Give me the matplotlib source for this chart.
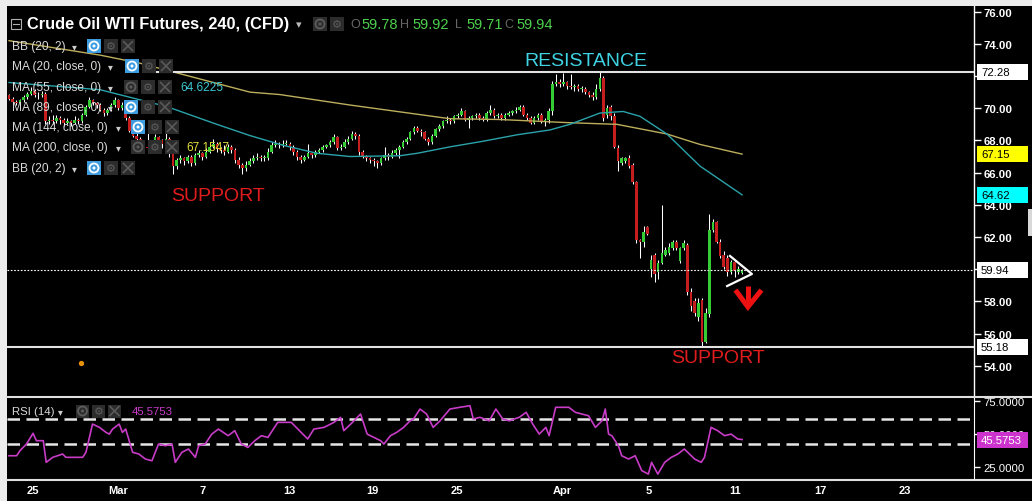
import matplotlib
matplotlib.use("Agg")
import matplotlib.pyplot as plt
from matplotlib.patches import Rectangle, Ellipse
from matplotlib.lines import Line2D
from matplotlib.ticker import FormatStrFormatter, FuncFormatter
import numpy as np

plt.rcParams['font.family'] = ['Liberation Sans', 'DejaVu Sans']

# ---------------- data ----------------
opens = [70.8, 70.6, 70.4, 70.3, 70.5, 70.7, 70.9, 71.1, 70.8, 70.8,
         70.9, 69.2, 69.3, 69.2, 69.4, 69.3, 69.1, 69.2, 69.1, 69.3,
         69.2, 69.6, 70.1, 70.5, 70.3, 70.2, 69.9, 69.7, 69.9, 70.2,
         70.5, 70.0, 70.2, 69.4, 68.6, 68.3, 68.1, 67.8, 67.6, 67.5,
         67.9, 68.2, 68.0, 67.8, 68.1, 67.2, 66.4, 66.8, 66.9, 66.7,
         67.0, 66.6, 67.1, 67.2, 67.0, 67.3, 67.6, 67.8, 67.5, 67.4,
         67.3, 67.6, 67.4, 66.8, 66.5, 66.3, 66.5, 66.7, 66.9, 67.0,
         66.9, 66.9, 67.3, 67.7, 67.8, 67.7, 67.8, 67.8, 67.6, 67.3,
         67.0, 66.8, 67.0, 67.2, 67.1, 67.3, 67.4, 67.6, 67.7, 67.9,
         68.2, 67.5, 67.6, 67.9, 68.1, 68.4, 68.3, 67.3, 67.0, 66.9,
         66.8, 66.7, 66.6, 66.9, 67.1, 67.0, 67.2, 67.4, 67.6, 67.9,
         68.1, 68.5, 68.8, 68.6, 68.5, 68.1, 67.9, 68.3, 68.7, 68.9,
         69.2, 69.3, 69.2, 69.5, 69.6, 69.8, 69.3, 69.4, 69.5, 69.6,
         69.4, 69.3, 69.7, 69.9, 69.5, 69.6, 69.4, 69.6, 69.7, 69.8,
         69.9, 70.1, 69.6, 69.4, 69.1, 69.4, 69.6, 69.2, 69.3, 69.8,
         71.5, 71.6, 71.5, 71.6, 71.4, 71.3, 71.4, 71.2, 71.2, 71.0,
         70.8, 70.7, 71.2, 71.9, 69.6, 70.1, 69.5, 67.55, 66.6, 66.7,
         66.9, 66.5, 65.4, 61.8, 61.7, 62.6, 60.0, 60.9, 59.8, 60.4,
         60.9, 61.0, 61.3, 61.7, 60.5, 61.3, 61.5, 58.6, 58.0, 57.0,
         58.1, 55.5, 57.2, 62.45, 62.9, 61.7, 60.9, 60.7, 59.8, 60.45,
         59.8, 59.78]
highs = [70.9, 70.7, 70.5, 70.6, 70.8, 71.0, 71.3, 71.2, 71.0, 71.1,
         71.0, 69.5, 69.6, 69.6, 69.5, 69.4, 69.4, 69.3, 69.5, 69.4,
         69.7, 70.2, 70.7, 70.6, 70.4, 70.3, 70.0, 70.0, 70.3, 70.7,
         70.6, 70.4, 70.3, 69.5, 68.8, 68.5, 68.2, 68.0, 68.7, 68.0,
         68.4, 68.3, 68.1, 68.6, 68.2, 67.3, 66.9, 67.1, 67.0, 67.1,
         67.1, 67.2, 67.4, 67.3, 67.5, 67.8, 68.1, 67.9, 67.6, 67.7,
         67.8, 67.7, 67.5, 67.0, 66.6, 66.7, 66.9, 67.1, 67.2, 67.1,
         67.1, 67.5, 67.9, 68.0, 67.9, 68.0, 68.0, 67.9, 67.7, 67.4,
         67.1, 67.1, 67.8, 67.3, 67.4, 67.5, 67.7, 67.8, 68.0, 68.4,
         68.3, 67.8, 68.1, 68.3, 68.6, 68.5, 68.4, 67.4, 67.1, 67.0,
         66.9, 66.8, 67.0, 67.6, 67.2, 67.4, 67.5, 67.7, 68.0, 68.2,
         68.6, 68.9, 68.9, 68.7, 68.6, 68.2, 68.4, 68.8, 69.0, 69.3,
         69.5, 69.4, 69.6, 69.7, 70.0, 69.9, 69.5, 69.6, 69.7, 69.7,
         69.5, 69.8, 70.2, 70.0, 69.7, 69.7, 69.7, 69.8, 69.9, 70.1,
         70.2, 70.2, 69.7, 69.5, 69.5, 69.7, 69.7, 69.4, 70.0, 71.7,
         72.1, 71.8, 72.2, 71.7, 72.1, 71.5, 71.5, 71.4, 71.3, 71.1,
         71.0, 71.5, 72.3, 72.0, 70.2, 70.2, 69.7, 67.7, 67.0, 67.0,
         67.1, 66.6, 65.5, 61.9, 62.7, 62.7, 60.9, 61.0, 60.6, 64.0,
         61.4, 61.6, 61.8, 61.8, 61.4, 61.8, 61.6, 58.8, 58.2, 58.2,
         58.2, 57.6, 63.4, 63.1, 63.0, 61.9, 61.1, 60.9, 60.6, 60.6,
         60.2, 60.0]
lows = [70.5, 70.3, 70.2, 70.2, 70.4, 70.6, 70.8, 70.7, 70.6, 70.7,
        69.0, 69.0, 69.0, 69.1, 69.0, 68.9, 69.0, 68.9, 69.0, 69.0,
        69.1, 69.5, 70.0, 70.2, 70.0, 69.8, 69.5, 69.6, 69.8, 70.1,
        69.9, 69.9, 69.3, 68.5, 68.2, 68.0, 67.6, 67.5, 67.4, 67.4,
        67.8, 67.8, 67.5, 67.7, 67.0, 65.9, 66.2, 66.6, 66.5, 66.6,
        66.4, 66.5, 67.0, 66.8, 66.9, 67.2, 67.5, 67.3, 67.2, 67.1,
        67.2, 67.2, 66.6, 66.3, 65.9, 66.1, 66.4, 66.6, 66.8, 66.7,
        66.7, 66.8, 67.2, 67.6, 67.5, 67.6, 67.7, 67.4, 67.1, 66.8,
        66.6, 66.7, 66.9, 66.9, 67.0, 67.2, 67.3, 67.5, 67.6, 67.8,
        67.4, 67.4, 67.5, 67.8, 68.0, 68.1, 67.1, 66.9, 66.7, 66.6,
        66.4, 66.3, 66.5, 66.8, 66.8, 66.9, 67.1, 66.9, 67.5, 67.8,
        68.0, 68.4, 68.5, 68.3, 68.0, 67.7, 67.8, 68.2, 68.6, 68.8,
        69.1, 69.0, 69.1, 69.4, 69.5, 69.2, 68.8, 69.3, 69.4, 69.3,
        69.2, 69.2, 69.6, 69.4, 69.4, 69.3, 69.3, 69.5, 69.6, 69.7,
        69.8, 69.5, 69.3, 69.0, 69.0, 69.3, 69.1, 68.9, 69.1, 69.6,
        71.4, 71.3, 71.4, 71.2, 71.2, 71.1, 71.1, 71.0, 70.9, 70.7,
        70.5, 70.6, 71.1, 69.2, 69.4, 69.3, 67.5, 66.1, 66.5, 66.6,
        66.3, 65.3, 61.6, 60.7, 61.4, 62.1, 59.5, 59.2, 59.4, 60.3,
        60.8, 60.9, 61.2, 61.2, 60.4, 61.2, 58.4, 57.4, 57.1, 56.8,
        55.2, 55.4, 57.0, 62.3, 61.6, 60.7, 60.0, 59.6, 59.7, 59.5,
        59.7, 59.71]
closes = [70.6, 70.4, 70.3, 70.5, 70.7, 70.9, 71.1, 70.8, 70.8, 70.9,
          69.2, 69.3, 69.2, 69.4, 69.3, 69.1, 69.2, 69.1, 69.3, 69.2,
          69.6, 70.1, 70.5, 70.3, 70.2, 69.9, 69.7, 69.9, 70.2, 70.5,
          70.0, 70.2, 69.4, 68.6, 68.3, 68.1, 67.8, 67.6, 67.5, 67.9,
          68.2, 68.0, 67.8, 68.1, 67.2, 66.4, 66.8, 66.9, 66.7, 67.0,
          66.6, 67.1, 67.2, 67.0, 67.3, 67.6, 67.8, 67.5, 67.4, 67.3,
          67.6, 67.4, 66.8, 66.5, 66.3, 66.5, 66.7, 66.9, 67.0, 66.9,
          66.9, 67.3, 67.7, 67.8, 67.7, 67.8, 67.8, 67.6, 67.3, 67.0,
          66.8, 67.0, 67.2, 67.1, 67.3, 67.4, 67.6, 67.7, 67.9, 68.2,
          67.5, 67.6, 67.9, 68.1, 68.4, 68.3, 67.3, 67.0, 66.9, 66.8,
          66.7, 66.6, 66.9, 67.1, 67.0, 67.2, 67.4, 67.6, 67.9, 68.1,
          68.5, 68.8, 68.6, 68.5, 68.1, 67.9, 68.3, 68.7, 68.9, 69.2,
          69.3, 69.2, 69.5, 69.6, 69.8, 69.3, 69.4, 69.5, 69.6, 69.4,
          69.3, 69.7, 69.9, 69.5, 69.6, 69.4, 69.6, 69.7, 69.8, 69.9,
          70.1, 69.6, 69.4, 69.1, 69.4, 69.6, 69.2, 69.3, 69.8, 71.5,
          71.6, 71.5, 71.6, 71.4, 71.3, 71.4, 71.2, 71.2, 71.0, 70.8,
          70.7, 71.2, 71.9, 69.4, 70.0, 69.5, 67.6, 66.7, 66.9, 66.9,
          66.4, 65.4, 61.8, 61.7, 62.3, 62.2, 60.6, 59.7, 60.4, 61.0,
          61.2, 61.4, 61.7, 61.3, 61.3, 61.6, 58.6, 57.7, 57.3, 57.9,
          55.5, 57.3, 62.45, 62.9, 61.7, 60.8, 60.15, 59.8, 60.45, 59.9,
          60.0, 59.94]

ma55_bars = [0, 25, 43.3, 57, 66.1, 75.1, 84.5, 93.5, 107.2, 111.9, 120.9,
             130, 139.3, 148.3, 153.8, 162, 168.4, 173, 180.4, 189.5, 201]
ma55_vals = [71.6, 71.15, 70.1, 69.0, 68.3, 67.7, 67.2, 67.0, 67.05, 67.2, 67.6,
             67.95, 68.35, 68.65, 69.0, 69.7, 69.8, 69.5, 68.4, 66.4, 64.62]
ma200_bars = [0, 25, 35.9, 66.1, 74.3, 93.5, 120.9, 134.6, 153.8, 166.7, 180.4, 189.5, 201]
ma200_vals = [74.2, 73.3, 72.8, 71.0, 70.85, 70.2, 69.35, 69.3, 69.1, 69.0, 68.4, 67.75, 67.15]

rsi_bars = [0, 2.1, 3.0, 4.8, 6.6, 7.5, 9.4, 10.2, 12.0, 14.7, 15.6, 20.2, 21.1, 22.9,
            24.8, 26.6, 27.5, 28.4, 30.2, 31.1, 32.0, 33.9, 35.6, 37.4, 39.2, 41.0,
            42.9, 44.7, 45.6, 47.4, 49.2, 51.1, 52.0, 53.8, 55.6, 57.4, 60.1, 61.9,
            63.7, 65.5, 67.4, 69.2, 71.0, 73.7, 77.4, 80.1, 81.9, 83.6, 86.4, 89.1,
            90.9, 91.8, 93.7, 96.4, 98.2, 101.9, 102.8, 104.6, 106.3, 108.2, 110.0,
            110.9, 112.7, 114.5, 116.3, 118.2, 120.9, 123.6, 126.4, 127.3, 129.1,
            131.7, 133.5, 135.4, 137.2, 139.9, 141.8, 143.6, 145.4, 147.2, 148.1,
            149.9, 151.7, 153.5, 155.3, 157.1, 158.9, 160.8, 162.6, 163.5, 164.4,
            165.3, 167.1, 168.0, 169.9, 171.7, 173.5, 175.3, 176.2, 177.9, 179.8,
            181.6, 183.4, 185.2, 186.1, 188.0, 189.8, 190.7, 192.5, 194.3, 196.2,
            198.0, 199.8, 201.0]
rsi_vals = [33.3, 33.3, 37.1, 42.2, 50.3, 44.7, 44.7, 28.3, 32.1, 34.6, 32.1, 32.1, 35.9, 57.3,
            54.8, 51.0, 49.7, 53.5, 57.3, 51.0, 53.5, 35.9, 34.6, 30.8, 29.5, 42.2,
            40.9, 42.2, 28.3, 35.9, 38.4, 32.1, 40.9, 42.2, 49.7, 53.5, 48.5, 52.3,
            42.2, 39.6, 44.7, 48.5, 47.2, 58.6, 58.6, 51.0, 46.0, 53.5, 54.8, 58.6,
            62.4, 52.3, 57.3, 64.9, 49.7, 44.7, 42.2, 48.5, 51.0, 54.8, 59.8,
            61.1, 68.7, 64.9, 54.8, 59.8, 68.7, 70.0, 71.2, 61.1, 62.4,
            59.8, 68.7, 61.1, 59.8, 62.4, 66.2, 57.3, 49.7, 54.8, 48.5,
            70.0, 70.0, 70.0, 66.2, 64.9, 63.6, 54.8, 59.8, 68.7, 49.7,
            48.5, 40.9, 33.3, 30.8, 33.3, 22.0, 19.4, 28.3, 19.4, 28.3,
            32.1, 34.6, 38.4, 35.9, 30.8, 28.3, 32.1, 54.8, 52.3, 48.5,
            49.7, 46.0, 45.6]
rsi_bands = [61, 42]

price_ticks = [54, 56, 58, 60, 62, 64, 66, 68, 70, 72, 74, 76]
rsi_ticks = [25, 50, 75]
date_labels = ['25', 'Mar', '7', '13', '19', '25', 'Apr', '5', '11', '17', '23']
date_bars = [6.6, 29.9, 53.2, 76.8, 99.5, 122.8, 151.6, 175.5, 199.1, 222.4, 245.7]

resistance = 72.28
support = 55.18
last_price = 59.94
ma55_last = 64.6225
ma200_last = 67.1547
rsi_last = 45.5753
ohlc_last = [('O', '59.78'), ('H', '59.92'), ('L', '59.71'), ('C', '59.94')]
title = 'Crude Oil WTI Futures, 240, (CFD)'
legend_labels = ['BB (20, 2)', 'MA (20, close, 0)', 'MA (55, close, 0)', 'MA (89, close, 0)',
                 'MA (144, close, 0)', 'MA (200, close, 0)', 'BB (20, 2)']

# ---------------- styles / layout ----------------
W, H = 1032, 502
GREEN = '#35cc35'
RED = '#c41e1e'
TEAL = '#2aa3aa'
OLIVE = '#bcae5c'
MAGENTA = '#c83cc8'
DEJA = ['DejaVu Sans']
NARROW = ['Liberation Sans Narrow', 'Liberation Sans', 'DejaVu Sans']

fig = plt.figure(figsize=(W / 100, H / 100), dpi=100)
fig.patch.set_facecolor('#ececec')


def fx(px):
    return px / W


def fy(py):
    return 1 - py / H


fig.add_artist(Rectangle((fx(7), 0), 1 - fx(7), fy(7), transform=fig.transFigure,
                         facecolor='black', edgecolor='none', zorder=-5))

BAR_PX = 3.647
x_left = -(9 - 7) / BAR_PX
x_right = x_left + (974 - 7) / BAR_PX

# ---------------- main panel ----------------
ax = fig.add_axes([fx(7), fy(396), fx(974) - fx(7), fy(7) - fy(396)])
ax.set_facecolor('black')
ax.set_xlim(x_left, x_right)
ax.set_ylim(52.18, 76.354)

x = np.arange(len(closes))
o = np.array(opens)
c = np.array(closes)
up = c >= o
body = c - o
body = np.where(np.abs(body) < 0.05, np.where(up, 0.05, -0.05), body)
ax.vlines(x, lows, highs, color='white', lw=0.75, zorder=3)
ax.bar(x, body, bottom=o, width=0.72, color=np.where(up, GREEN, RED), lw=0, zorder=4)

ax.plot(ma200_bars, ma200_vals, color=OLIVE, lw=1.0, zorder=5)
ax.plot(ma55_bars, ma55_vals, color=TEAL, lw=1.0, zorder=5)

ax.hlines(resistance, 39, x_right, color='#e2e2e2', lw=1.5, zorder=6)
ax.axhline(support, color='#e2e2e2', lw=1.5, zorder=6)
ax.axhline(last_price, color='white', lw=0.8, ls=(0, (1.5, 1.5)), zorder=6)

ax.text(158.2, 72.94, 'RESISTANCE', color='#3fd3e3', fontsize=14, ha='center', va='center', zorder=7)
ax.text(57.3, 64.55, 'SUPPORT', color='#e01c1c', fontsize=14, ha='center', va='center', zorder=7)
ax.text(194.4, 54.54, 'SUPPORT', color='#e01c1c', fontsize=14, ha='center', va='center', zorder=7)

# pennant drawing + arrow
ax.plot([197.7, 203.7, 196.9], [60.82, 59.70, 58.95], color='white', lw=1.6, zorder=8)
ax.plot([202.6, 202.6], [58.95, 57.9], color='#ee1111', lw=3.6, zorder=8, solid_capstyle='butt')
ax.plot([199.6, 202.6, 205.9], [58.58, 57.65, 58.58], color='#ee1111', lw=3.6, zorder=8,
        solid_joinstyle='miter')
ax.plot([19.7], [54.17], 'o', color='#e8920a', ms=2.8, zorder=8)

for s in ax.spines.values():
    s.set_visible(False)
ax.spines['right'].set_visible(True)
ax.spines['right'].set_color('white')
ax.spines['right'].set_linewidth(1)
ax.set_xticks([])
ax.yaxis.tick_right()
ax.set_yticks(price_ticks)
covered = [resistance, last_price]   # labels fully hidden by value boxes in the reference
ax.yaxis.set_major_formatter(FuncFormatter(
    lambda v, p: '' if any(abs(v - cv) < 0.5 for cv in covered) else '%.2f' % v))
ax.tick_params(axis='y', colors='white', length=5, width=1, pad=2, labelsize=8.2)
for lab in ax.get_yticklabels():
    lab.set_fontweight('bold')

# ---------------- RSI panel ----------------
ax2 = fig.add_axes([fx(7), fy(480), fx(974) - fx(7), fy(399) - fy(480)])
ax2.set_facecolor('black')
ax2.set_xlim(x_left, x_right)
ax2.set_ylim(15.68, 77.05)
ax2.plot(rsi_bars, rsi_vals, color=MAGENTA, lw=1.2, zorder=4)
for b in rsi_bands:
    ax2.axhline(b, color='#e6e6e6', lw=1.8, ls=(0, (5, 2.6)), zorder=3)
for s in ax2.spines.values():
    s.set_visible(False)
ax2.spines['right'].set_visible(True)
ax2.spines['right'].set_color('white')
ax2.yaxis.tick_right()
ax2.set_yticks(rsi_ticks)
ax2.yaxis.set_major_formatter(FormatStrFormatter('%.4f'))
ax2.tick_params(axis='y', colors='white', length=4, width=1, pad=3, labelsize=8.2)
for lab in ax2.get_yticklabels():
    lab.set_family(NARROW)
ax2.set_xticks(date_bars)
ax2.set_xticklabels(date_labels)
ax2.tick_params(axis='x', colors='white', length=0, pad=4, labelsize=8)
for lab in ax2.get_xticklabels():
    lab.set_fontweight('bold')

# separators
for yy in (397.5, 481):
    fig.add_artist(Line2D([fx(7), 1], [fy(yy), fy(yy)], transform=fig.transFigure,
                          color='#e0e0e0', lw=1.5, zorder=9))
fig.add_artist(Rectangle((fx(1028), fy(237)), 4 / W, 27 / H, transform=fig.transFigure,
                         facecolor='#d8d8d8', edgecolor='none', zorder=9))


# ---------------- value boxes ----------------
def value_box(axis, val, text, face, tcolor, fam=None):
    yd = axis.transData.transform((0, val))[1]
    fig.add_artist(Rectangle((fx(977), (yd - 8) / H), 51 / W, 16 / H, transform=fig.transFigure,
                             facecolor=face, edgecolor='none', zorder=10))
    fig.text(fx(981), yd / H, text, color=tcolor, fontsize=8.2, va='center', ha='left',
             zorder=11, family=fam or ['Liberation Sans', 'DejaVu Sans'])


value_box(ax, resistance, '%.2f' % resistance, 'white', 'black')
value_box(ax, ma200_last, '%.2f' % ma200_last, '#ffff00', 'black')
value_box(ax, ma55_last, '%.2f' % ma55_last, '#00ffff', 'black')
value_box(ax, last_price, '%.2f' % last_price, 'white', 'black')
value_box(ax, support, '%.2f' % support, 'white', 'black')
value_box(ax2, rsi_last, '%.4f' % rsi_last, '#cc33cc', 'white', NARROW)


# ---------------- legend / header overlays ----------------
def icon(xl, yc, kind, active, size=14):
    face = '#3d9de0' if active and kind == 'eye' else '#2c2c2c'
    gcol = 'white' if active and kind == 'eye' else '#5c5c5c'
    fig.add_artist(Rectangle((fx(xl), fy(yc + size / 2)), size / W, size / H,
                             transform=fig.transFigure, facecolor=face, edgecolor='none', zorder=8))
    cx = xl + size / 2
    if kind == 'eye':
        fig.add_artist(Ellipse((fx(cx), fy(yc)), 9 / W, 9 / H, transform=fig.transFigure,
                               fill=False, edgecolor=gcol, lw=1.3, zorder=9))
        fig.add_artist(Ellipse((fx(cx), fy(yc)), 3 / W, 3 / H, transform=fig.transFigure,
                               facecolor=gcol, edgecolor='none', zorder=9))
    elif kind == 'gear':
        fig.text(fx(cx), fy(yc), '\u2699', color=gcol, fontsize=8, ha='center', va='center',
                 family=DEJA, zorder=9)
    else:
        d = 4.5
        fig.add_artist(Line2D([fx(cx - d), fx(cx + d)], [fy(yc - d), fy(yc + d)],
                              transform=fig.transFigure, color=gcol, lw=1.1, zorder=9))
        fig.add_artist(Line2D([fx(cx - d), fx(cx + d)], [fy(yc + d), fy(yc - d)],
                              transform=fig.transFigure, color=gcol, lw=1.1, zorder=9))


# header
fig.add_artist(Rectangle((fx(11), fy(30)), 10 / W, 10 / H, transform=fig.transFigure,
                         fill=False, edgecolor='#b0b0b0', lw=0.8, zorder=8))
fig.add_artist(Line2D([fx(13), fx(19)], [fy(25), fy(25)], transform=fig.transFigure,
                      color='#b0b0b0', lw=0.8, zorder=8))
fig.text(fx(27), fy(25), title, color='white', fontsize=11.8, weight='bold',
         va='center', ha='left', zorder=8)
fig.text(fx(296), fy(25), '\u25be', color='#bbbbbb', fontsize=8, va='center', family=DEJA, zorder=8)
icon(313, 25, 'eye', False, 14)
icon(330, 25, 'gear', False, 14)
ohlc_x = [(350, 361), (400, 412), (455, 466), (504, 516)]
for (letter, val), (lx, vx) in zip(ohlc_last, ohlc_x):
    fig.text(fx(lx), fy(25), letter, color='#666666', fontsize=9, va='center', zorder=8)
    fig.text(fx(vx), fy(25), val, color='#4dd14d', fontsize=10.5, va='center', zorder=8)

# indicator legend rows: (y, caret x, eye x, eye active)
rows = [(47, 72, 87, True), (67, 108, 125, True), (88, 108, 124, False), (108, 108, 124, True),
        (128, 116, 131, True), (148, 116, 131, False), (169, 72, 87, True)]
for label, (yy, cx, ex, act) in zip(legend_labels, rows):
    fig.text(fx(12), fy(yy), label, color='#dadada', fontsize=8.6, va='center', ha='left', zorder=8)
    fig.text(fx(cx), fy(yy), '\u25be', color='#cccccc', fontsize=7, va='center', family=DEJA, zorder=8)
    icon(ex, yy, 'eye', act)
    icon(ex + 17, yy, 'gear', False)
    icon(ex + 34, yy, 'x', False)
fig.text(fx(180), fy(88), '%.4f' % ma55_last, color='#3cc8d2', fontsize=8.6, va='center', zorder=8)
fig.text(fx(186), fy(148), '%.4f' % ma200_last, color='#e2dc3a', fontsize=8.6, va='center', zorder=8)

# RSI legend
fig.text(fx(12), fy(412), 'RSI (14)', color='#dadada', fontsize=8.2, va='center', ha='left',
         family=NARROW, zorder=8)
fig.text(fx(58), fy(412), '\u25be', color='#cccccc', fontsize=7, va='center', family=DEJA, zorder=8)
icon(76, 412, 'eye', False, 13)
icon(92, 412, 'gear', False, 13)
icon(108, 412, 'x', False, 13)
fig.text(fx(132), fy(412), '%.4f' % rsi_last, color=MAGENTA, fontsize=8.2, va='center',
         family=NARROW, zorder=8)

fig.savefig('out.png', dpi=100, facecolor=fig.get_facecolor())
